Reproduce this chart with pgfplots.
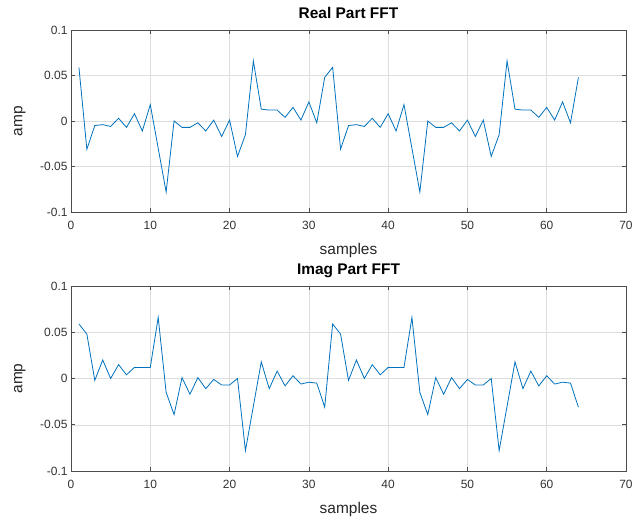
\documentclass[border=0pt]{standalone}
\usepackage{pgfplots}
\pgfplotsset{compat=1.18}
\usepackage{pgfplotstable}
\usepackage{fontspec}
\setmainfont{Liberation Sans}

\definecolor{mlblue}{rgb}{0,0.447,0.741}

\pgfplotstableread{
n re
1 0.059
2 -0.031
3 -0.005
4 -0.004
5 -0.006
6 0.003
7 -0.007
8 0.008
9 -0.011
10 0.018
11 -0.030
12 -0.078
13 0.000
14 -0.007
15 -0.007
16 -0.002
17 -0.011
18 0.001
19 -0.017
20 0.001
21 -0.039
22 -0.015
23 0.066
24 0.013
25 0.012
26 0.012
27 0.004
28 0.015
29 0.001
30 0.021
31 -0.002
32 0.048
33 0.059
34 -0.031
35 -0.005
36 -0.004
37 -0.006
38 0.003
39 -0.007
40 0.008
41 -0.011
42 0.018
43 -0.030
44 -0.078
45 0.000
46 -0.007
47 -0.007
48 -0.002
49 -0.011
50 0.001
51 -0.017
52 0.001
53 -0.039
54 -0.015
55 0.066
56 0.013
57 0.012
58 0.012
59 0.004
60 0.015
61 0.001
62 0.021
63 -0.002
64 0.048
}\realdata

\pgfplotstableread{
n im
1 0.059
2 0.048
3 -0.002
4 0.020
5 0.000
6 0.015
7 0.004
8 0.012
9 0.012
10 0.012
11 0.066
12 -0.015
13 -0.039
14 0.001
15 -0.017
16 0.001
17 -0.011
18 -0.001
19 -0.007
20 -0.007
21 0.000
22 -0.078
23 -0.030
24 0.018
25 -0.011
26 0.008
27 -0.008
28 0.003
29 -0.006
30 -0.004
31 -0.005
32 -0.031
33 0.059
34 0.048
35 -0.002
36 0.020
37 0.000
38 0.015
39 0.004
40 0.012
41 0.012
42 0.012
43 0.066
44 -0.015
45 -0.039
46 0.001
47 -0.017
48 0.001
49 -0.011
50 -0.001
51 -0.007
52 -0.007
53 0.000
54 -0.078
55 -0.030
56 0.018
57 -0.011
58 0.008
59 -0.008
60 0.003
61 -0.006
62 -0.004
63 -0.005
64 -0.031
}\imagdata

\pgfplotsset{
  mlstyle/.style={
    scale only axis,
    width=555bp, height=182bp,
    xmin=0, xmax=70, ymin=-0.1, ymax=0.1,
    xtick={0,10,...,70},
    ytick={-0.1,-0.05,0,0.05,0.1},
    yticklabels={-0.1,-0.05,0,0.05,0.1},
    tick align=inside,
    major tick length=4bp,
    axis line style={black!70, line width=0.6bp},
    tick style={black!70, line width=0.6bp},
    grid=major,
    major grid style={black!13, line width=0.5bp},
    ticklabel style={font=\fontsize{12}{14}\selectfont, text=black!80},
    xticklabel style={yshift=-6bp},
    /pgf/number format/assume math mode=true,
    xlabel={samples},
    ylabel={amp},
    label style={font=\fontsize{15.5}{17}\selectfont, text=black!85},
    xlabel style={at={(axis description cs:0.5,0)}, anchor=base, yshift=-42bp},
    ylabel style={at={(axis description cs:-0.092,0.5)}, anchor=center},
    title style={font=\bfseries\fontsize{15.5}{17}\selectfont, at={(axis description cs:0.5,1)}, anchor=base, yshift=6bp},
    anchor=north west,
  }
}

\begin{document}
\begin{tikzpicture}
\path[use as bounding box] (-71bp,30bp) rectangle (562bp,-490bp);
\begin{axis}[mlstyle, at={(0bp,0bp)}, title={Real Part FFT}]
\addplot[mlblue, line width=0.8bp] table[x=n, y=re] {\realdata};
\end{axis}
\begin{axis}[mlstyle, at={(0bp,-256bp)}, title={Imag Part FFT}, height=185bp]
\addplot[mlblue, line width=0.8bp] table[x=n, y=im] {\imagdata};
\end{axis}
\end{tikzpicture}
\end{document}
